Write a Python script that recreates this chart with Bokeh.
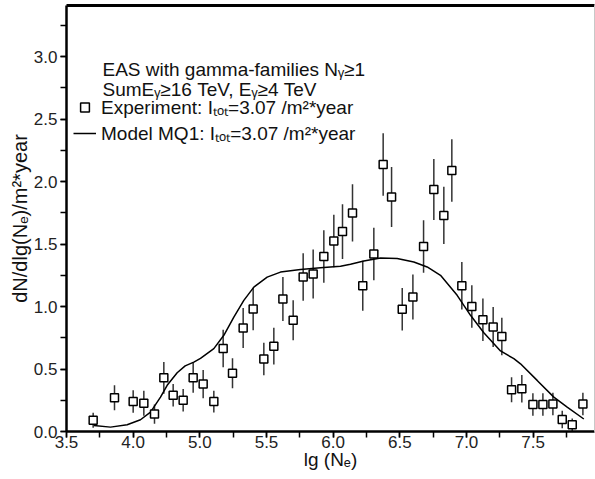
from bokeh.plotting import figure
from bokeh.models import FixedTicker, LinearAxis, Legend, LegendItem, Label, Range1d
from bokeh.embed import file_html
from bokeh.resources import INLINE

# ---- data ----
x_exp = [4.20, 4.36, 4.50, 4.58, 4.66, 4.73, 4.80, 4.875, 4.95, 5.025, 5.105, 5.175,
         5.245, 5.325, 5.40, 5.48, 5.555, 5.623, 5.70, 5.775, 5.85, 5.93, 6.005, 6.07,
         6.145, 6.222, 6.305, 6.375, 6.438, 6.518, 6.598, 6.678, 6.755, 6.83, 6.89, 6.965,
         7.04, 7.123, 7.20, 7.265, 7.338, 7.415, 7.498, 7.573, 7.648, 7.718, 7.793, 7.873]
y_exp = [0.09, 0.27, 0.24, 0.227, 0.14, 0.43, 0.29, 0.25, 0.43, 0.38, 0.24, 0.665,
         0.467, 0.828, 0.98, 0.58, 0.683, 1.06, 0.89, 1.236, 1.26, 1.40, 1.525, 1.60,
         1.75, 1.167, 1.42, 2.137, 1.877, 0.978, 1.076, 1.48, 1.937, 1.73, 2.09, 1.167,
         1.0, 0.895, 0.836, 0.76, 0.334, 0.342, 0.216, 0.216, 0.22, 0.096, 0.054, 0.22]
err_exp = [0.06, 0.10, 0.09, 0.10, 0.077, 0.127, 0.09, 0.09, 0.12, 0.113, 0.087, 0.15,
           0.12, 0.16, 0.17, 0.13, 0.147, 0.176, 0.16, 0.19, 0.196, 0.21, 0.21, 0.22,
           0.23, 0.20, 0.21, 0.25, 0.24, 0.17, 0.18, 0.21, 0.245, 0.23, 0.25, 0.19,
           0.17, 0.17, 0.16, 0.15, 0.10, 0.11, 0.09, 0.09, 0.09, 0.07, 0.05, 0.09]

x_model = [4.205, 4.33, 4.455, 4.555, 4.63, 4.705, 4.755, 4.83, 4.89, 4.955, 5.005, 5.105,
           5.18, 5.255, 5.33, 5.405, 5.505, 5.605, 5.755, 5.905, 6.055, 6.13, 6.23,
           6.355, 6.48, 6.605, 6.705, 6.805, 6.93, 6.98, 7.03, 7.13, 7.255, 7.355,
           7.405, 7.53, 7.655, 7.755, 7.88]
y_model = [0.048, 0.035, 0.054, 0.094, 0.155, 0.275, 0.37, 0.47, 0.525, 0.555, 0.585, 0.663,
           0.77, 0.916, 1.05, 1.156, 1.236, 1.276, 1.296, 1.31, 1.322, 1.338, 1.365,
           1.389, 1.384, 1.357, 1.317, 1.25, 1.09, 1.01, 0.93, 0.79, 0.645, 0.583,
           0.542, 0.409, 0.275, 0.195, 0.10]

x_tick_values = [4.0, 4.5, 5.0, 5.5, 6.0, 6.5, 7.0, 7.5]
x_tick_labels = ["3.5", "4.0", "5.0", "5.5", "6.0", "6.5", "7.0", "7.5"]
y_tick_values = [0.0, 0.5, 1.0, 1.5, 2.0, 2.5, 3.0]
y_tick_labels = ["0.0", "0.5", "1.0", "1.5", "2.0", "2.5", "3.0"]

title_lines = ["EAS with gamma-families N\u1d67\u22651",
               "SumE\u1d67\u226516 TeV, E\u1d67\u22654 TeV"]
exp_label = "Experiment: I\u209c\u2092\u209c=3.07 /m\u00b2*year"
model_label = "Model MQ1: I\u209c\u2092\u209c=3.07 /m\u00b2*year"
x_label = "lg (N\u2091)"
y_label = "dN/dlg(N\u2091)/m\u00b2*year"

FONT = "Liberation Sans"

p = figure(width=595, height=479, output_backend="svg", toolbar_location=None,
           x_range=Range1d(4.0, 7.96), y_range=Range1d(0.0, 3.41),
           min_border_left=66, min_border_right=1, min_border_top=5,
           min_border_bottom=48, x_axis_label=x_label, y_axis_label=y_label)
p.outline_line_color = None
p.grid.visible = False
p.background_fill_color = "white"
p.border_fill_color = "white"

xminor = [4.0 + 0.25 * i for i in range(16)]
yminor = [0.25 * i for i in range(14)]
p.xaxis.ticker = FixedTicker(ticks=x_tick_values, minor_ticks=xminor)
p.yaxis.ticker = FixedTicker(ticks=y_tick_values, minor_ticks=yminor)
p.xaxis.major_label_overrides = dict(zip(x_tick_values, x_tick_labels))
p.yaxis.major_label_overrides = dict(zip(y_tick_values, y_tick_labels))

for ax in (p.xaxis[0], p.yaxis[0]):
    ax.axis_line_width = 2.5
    ax.axis_line_color = "black"
    ax.major_tick_in = 0
    ax.minor_tick_in = 0
    ax.major_tick_out = 6
    ax.minor_tick_out = 6
    ax.major_tick_line_width = 1.5
    ax.minor_tick_line_width = 1.5
    ax.major_tick_line_color = "black"
    ax.minor_tick_line_color = "black"
    ax.major_label_text_font = FONT
    ax.major_label_text_font_size = "17px"
    ax.major_label_text_color = "#222222"
    ax.axis_label_text_font = FONT
    ax.axis_label_text_font_style = "normal"
    ax.axis_label_text_color = "#111111"

p.xaxis.major_label_standoff = -2
p.xaxis.axis_label_standoff = -2
p.xaxis.axis_label_text_font_size = "19px"
p.yaxis.major_label_standoff = 3
p.yaxis.axis_label_standoff = 0
p.yaxis.axis_label_text_font_size = "20px"

top_axis = LinearAxis(ticker=FixedTicker(ticks=[]), major_tick_out=0, major_tick_in=0,
                      minor_tick_out=0, minor_tick_in=0, major_label_standoff=0,
                      major_label_text_font_size="0px", axis_line_width=3,
                      axis_line_color="black")
p.add_layout(top_axis, "above")
right_axis = LinearAxis(ticker=FixedTicker(ticks=[]), major_tick_out=0, major_tick_in=0,
                        minor_tick_out=0, minor_tick_in=0, major_label_standoff=0,
                        major_label_text_font_size="0px", axis_line_width=1,
                        axis_line_color="#c8c8c8")
p.add_layout(right_axis, "right")

# error bars
p.segment(x0=x_exp, y0=[y - e for y, e in zip(y_exp, err_exp)],
          x1=x_exp, y1=[y + e for y, e in zip(y_exp, err_exp)],
          line_color="#333333", line_width=1.5)
# model curve
ln = p.line(x_model, y_model, line_color="black", line_width=1.5)
# experiment points
sq = p.scatter(x_exp, y_exp, marker="square", size=8, fill_color="white",
               line_color="black", line_width=1.5)

for txt, yy in zip(title_lines, [2.90, 2.735]):
    p.add_layout(Label(x=4.27, y=yy, text=txt, text_font=FONT, text_font_size="19px",
                       text_color="#111111", text_baseline="alphabetic"))

legend = Legend(items=[LegendItem(label=exp_label, renderers=[sq]),
                       LegendItem(label=model_label, renderers=[ln])],
                location=(7, 285), padding=0, margin=0, spacing=-2,
                glyph_width=23, glyph_height=22, label_height=22, label_standoff=5,
                label_text_font=FONT, label_text_font_size="19px",
                label_text_color="#111111", border_line_color=None,
                background_fill_alpha=0)
p.add_layout(legend)

open("out.html", "w").write(file_html(p, INLINE))
